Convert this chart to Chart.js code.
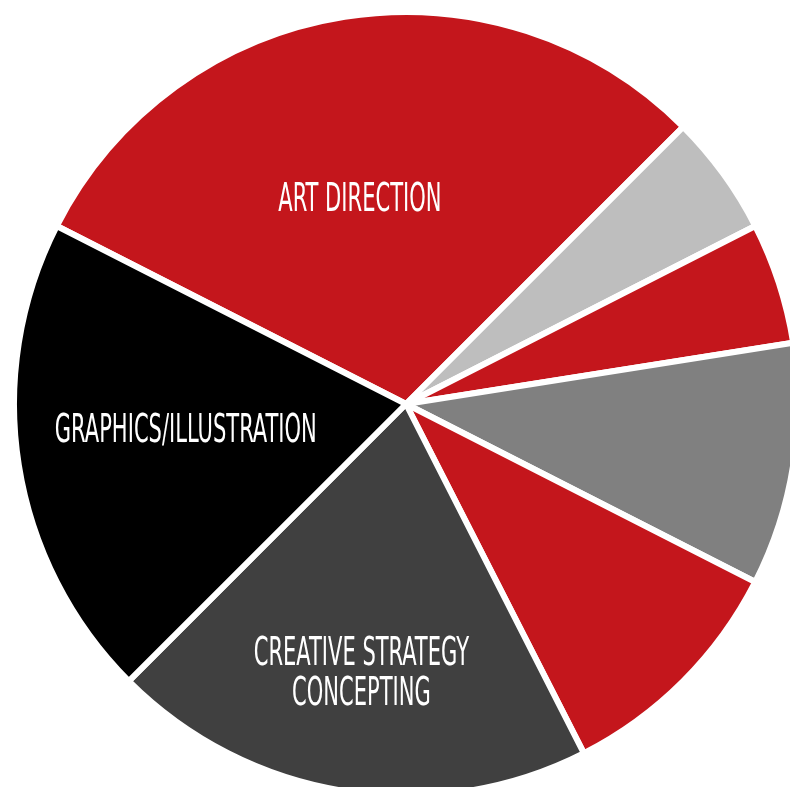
<!DOCTYPE html>
<html>
<head>
<meta charset="utf-8">
<script src="https://cdn.jsdelivr.net/npm/chart.js@4.4.0/dist/chart.umd.min.js"></script>
<style>
  html, body { margin: 0; padding: 0; background: #ffffff; overflow: hidden; width: 790px; height: 787px; }
  #wrap { position: absolute; left: 6px; top: 4px; width: 800px; height: 800px; }
</style>
</head>
<body>
<div id="wrap"><canvas id="c" width="800" height="800"></canvas></div>
<script>
// Data
const categories = ["ART DIRECTION", "", "", "", "", "CREATIVE STRATEGY\nCONCEPTING", "GRAPHICS/ILLUSTRATION"];
const values = [30, 5, 5, 10, 10, 20, 20];
const colors = ["#C4161C", "#BEBEBE", "#C4161C", "#808080", "#C4161C", "#404040", "#000000"];
// label placement: angle tweak (deg) from slice middle, radius fraction
const labelAngleTweak = [-3.7, 0, 0, 0, 0, 0.4, 2.0];
const labelRadiusFrac = [0.535, 0, 0, 0, 0, 0.697, 0.566];

const labelPlugin = {
  id: 'sliceLabels',
  afterDatasetsDraw(chart) {
    const ctx = chart.ctx;
    const meta = chart.getDatasetMeta(0);
    meta.data.forEach((arc, i) => {
      const text = categories[i];
      if (!text) return;
      const p = arc.getProps(['x', 'y', 'startAngle', 'endAngle', 'outerRadius'], true);
      const mid = (p.startAngle + p.endAngle) / 2 + labelAngleTweak[i] * Math.PI / 180;
      const r = p.outerRadius * labelRadiusFrac[i];
      const cx = p.x + Math.cos(mid) * r;
      const cy = p.y + Math.sin(mid) * r;
      const lines = text.split('\n');
      const lh = 40;
      ctx.save();
      ctx.fillStyle = '#ffffff';
      ctx.font = '39px "Liberation Sans Narrow", "DejaVu Sans Condensed", sans-serif';
      ctx.textAlign = 'center';
      ctx.textBaseline = 'middle';
      ctx.translate(cx, cy);
      ctx.scale(0.60, 1);
      lines.forEach((ln, k) => {
        const yy = (k - (lines.length - 1) / 2) * lh;
        ctx.fillText(ln, 0, yy + 1);
      });
      ctx.restore();
    });
  }
};

new Chart(document.getElementById('c'), {
  type: 'pie',
  data: {
    labels: categories,
    datasets: [{
      data: values,
      backgroundColor: colors,
      borderColor: '#ffffff',
      borderWidth: 6,
      hoverOffset: 0,
      offset: 0,
      clip: false
    }]
  },
  options: {
    responsive: false,
    animation: false,
    rotation: -63,
    radius: 392,
    layout: { padding: 0 },
    plugins: { legend: { display: false }, tooltip: { enabled: false } }
  },
  plugins: [labelPlugin]
});
</script>
</body>
</html>
